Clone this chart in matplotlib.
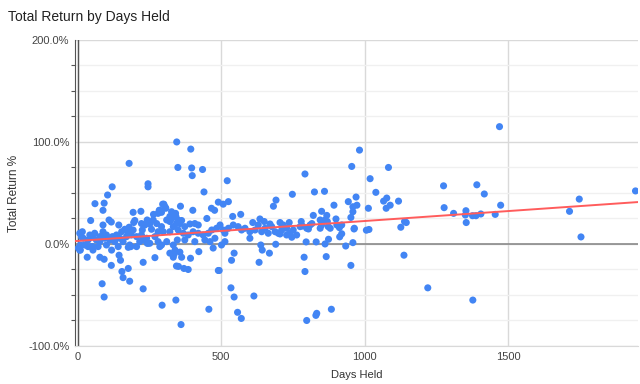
import numpy as np
import matplotlib
matplotlib.use('Agg')
import matplotlib.pyplot as plt
from matplotlib.ticker import MultipleLocator, FuncFormatter

plt.rcParams['font.family'] = ['Liberation Sans', 'DejaVu Sans']

# 持有天数 / 总收益率(%)，从图上读出来的近似值
days_0_200 = [16, 7, 9, 33, 53, 47, 77, 92, 117, 144, 149, 154, 176, 158, 181, 85, 92,
              45, 60, 92, 88, 104, 120, 179, 109, 117, 88, 143, 164, 179, 199, 193, 187, 193, 185,
              7, 19, 24, 36, 42, 51, 59, 65, 71, 77, 88, 94, 100, 112, 121, 129, 135, 147, 153,
              158, 170, 176, 181, 13, 2, 195, 118, 100, 77, 53, 36, 9, 141, 176]
ret_0_200 = [12, -6, -6, -13, -6, -2.6, -13, -15, -21, -11, -16, -27, -24, -33, -36.5, -39, -52,
             23, 39.5, 40, 33, 48, 56, 79, 23.5, 21.5, 18.6, 18.6, 14.4, 16.4, 23, 31, 8.8, 13.7, -2.6,
             10.5, 5.6, -1, 3.9, 8.8, 7.2, 10.5, 3.9, -2.6, 7.2, 12, 5.6, 8.8, 3.9, 7.2, 2.3, 8.8, 5.6, 12,
             2.3, 7.2, 10.5, -1, 7, -4, 21, -6, -1, 2.3, -2.6, -2.6, -1, -2.6, -3.3]

days_200_500 = [345, 394, 349, 397, 435, 399, 245, 245, 440, 300, 284, 307, 358, 220, 341, 401,
                466, 477, 490, 450, 264, 321, 327, 362, 296, 304, 286, 280, 292,
                234, 251, 257, 225, 275, 292, 298, 280, 321, 333, 344, 350, 321,
                356, 373, 391, 408, 420, 368, 385, 402, 420, 437, 455, 467, 484, 496,
                228, 294, 342, 360, 457, 490, 228, 269, 336, 356, 351, 370, 385, 393, 472,
                245, 286, 321, 333, 344, 339, 362, 422,
                205, 216, 222, 240, 251, 269, 280, 222, 242, 263, 310, 327, 342, 350,
                228, 242, 205, 292, 310, 333, 347, 443, 461, 478, 408, 373]
ret_200_500 = [100, 93, 75, 74.5, 73, 67, 59, 56, 51, 39, 33, 35, 37, 32, 30, 33,
               35, 33, 41, 25, 29, 27, 24.5, 23, 39, 36.5, 33, 30, 31,
               18.6, 19.6, 14.4, 13.7, 20, 17, 12, 12, 22, 17, 20, 13.7, 12,
               20, 17, 19.6, 20, 18.6, 10.5, 8.8, 12, 10.5, 8.8, 10.5, 13.7, 15.4, 18.6,
               -44, -60, -55, -79, -64, -26, -18, -13.4, -10, -8, -22, -24, -25, -14, -4,
               0.7, -2.6, -9, -13, -21.6, -6, -13, -7.5,
               7.2, 2.3, 8.8, 5.6, 0.7, 7.2, 2.3, 20, 23.5, 23.5, 23.5, 31.6, 27, 23.5,
               3.9, 0.7, -2.6, -1, 2.3, -1, 3.9, 3.9, 2.3, 5.6, 2.3, 3.9]

days_500_800 = [507, 513, 525, 542, 559, 571, 583, 600, 618, 629, 641, 653, 664, 676, 688, 699, 711,
                521, 507, 525, 540, 568, 682, 691, 610, 635, 650, 705, 737, 748, 779, 783,
                501, 513, 545, 536, 493, 534, 545, 557, 570, 614, 632, 638, 643, 668, 690, 600,
                728, 746, 705, 792, 789, 792, 796, 670, 775, 798, 716, 728, 751, 740, 763]
ret_500_800 = [13.7, 10.5, 15.4, 18.6, 17, 13.7, 15.4, 12, 13.7, 18.6, 12, 15.4, 10.5, 17, 12, 10.5, 13.7,
               62, 39, 41.5, 27, 29, 37, 43, 21, 24.5, 22, 21, 21, 48.7, 22, 17.6,
               -1, 2.3, -9, -16, -26, -43, -52, -67, -73, -51, -18, -1, -6, -9, -0.3, 5.6,
               8.8, 6.6, 9.8, 68.6, -13, -27, 2, 19.6, 17, 15.4, 18.6, 15.4, 13.7, 10.5, 8.8]

days_800_1150 = [798, 830, 833, 884, 866, 952, 831, 862, 874, 934, 959, 964, 1006, 1015, 913, 920,
                 982, 955, 1083, 1019, 825, 860, 1039, 1066, 1077, 1075, 943, 970, 973, 959, 959, 952,
                 893, 850, 868, 821, 1013, 900, 963, 810, 804, 845, 850, 873, 845, 912,
                 1089, 1118, 1126, 1139, 1145, 1137, 816, 862, 880, 903, 920, 870]
ret_800_1150 = [-75, -70, -68, -64, -12.4, -21, 2, 0, 4.6, -2, 1.3, 15.4, 13.5, 14.2, 7, 10,
                92, 76, 75, 64, 51, 51.6, 50.6, 42, 45, 35, 41.5, 46, 38, 36.5, 31.6, 26,
                38, 32, 28, 28, 35, 24.5, 14.7, 18.6, 14.7, 23.5, 18.6, 17, 15.4, 16,
                38, 42, 16.4, 22, 21, -11, 20, 23.5, 15.4, 18.6, 18.6, 22]

days_late = [1220, 1275, 1391, 1417, 1277, 1310, 1353, 1351, 1354, 1376, 1388, 1405, 1455,
             1470, 1474, 1944, 1748, 1714, 1754, 1377]
ret_late = [-43, 57, 58, 49, 35.6, 30, 32.6, 28.4, 21, 27.7, 27.7, 29.4, 29,
            115, 38, 52, 44, 32, 6.9, -55]

# 趋势线（从图上读的）
trend_intercept = 3.0
trend_slope = 0.0195

days = np.array(days_0_200 + days_200_500 + days_500_800 + days_800_1150 + days_late)
ret = np.array(ret_0_200 + ret_200_500 + ret_500_800 + ret_800_1150 + ret_late)

fig = plt.figure(figsize=(6.4, 3.84), dpi=100)
ax = fig.add_axes([0.117, 0.099, 0.880, 0.797])

xmin, xmax = -10, 1953
ax.set_xlim(xmin, xmax)
ax.set_ylim(-100, 200)

ax.yaxis.set_major_locator(MultipleLocator(100))
ax.yaxis.set_minor_locator(MultipleLocator(25))
ax.xaxis.set_major_locator(MultipleLocator(500))
ax.yaxis.set_major_formatter(FuncFormatter(lambda v, p: '%.1f%%' % v))

ax.grid(True, which='major', color='#d9d9d9', lw=1)
ax.grid(True, which='minor', axis='y', color='#f0f0f0', lw=1)
ax.set_axisbelow(True)

for s in ['top', 'right']:
    ax.spines[s].set_visible(False)
ax.spines['bottom'].set_color('#d9d9d9')
ax.spines['left'].set_color('#555555')
ax.axhline(0, color='#8a8a8a', lw=1.2, zorder=1)
ax.axvline(0, color='#555555', lw=1, zorder=1)

ax.tick_params(axis='both', which='both', length=0, labelsize=8, colors='#444444', pad=4)
ax.tick_params(axis='y', which='minor', length=3, color='#555555', direction='out', width=0.8)

ax.scatter(days, ret, s=26, color='#4285f4', edgecolors='none', zorder=3)

tx = np.array([xmin, xmax])
ax.plot(tx, trend_intercept + trend_slope * tx, color='#ff5c5c', lw=1.4, zorder=4)

ax.set_xlabel('Days Held', fontsize=8, color='#333333', labelpad=6)
ax.set_ylabel('Total Return %', fontsize=8.5, color='#333333', labelpad=6)
fig.text(0.012, 0.945, 'Total Return by Days Held', fontsize=10, color='#222222')

fig.savefig('out.png', dpi=100)
